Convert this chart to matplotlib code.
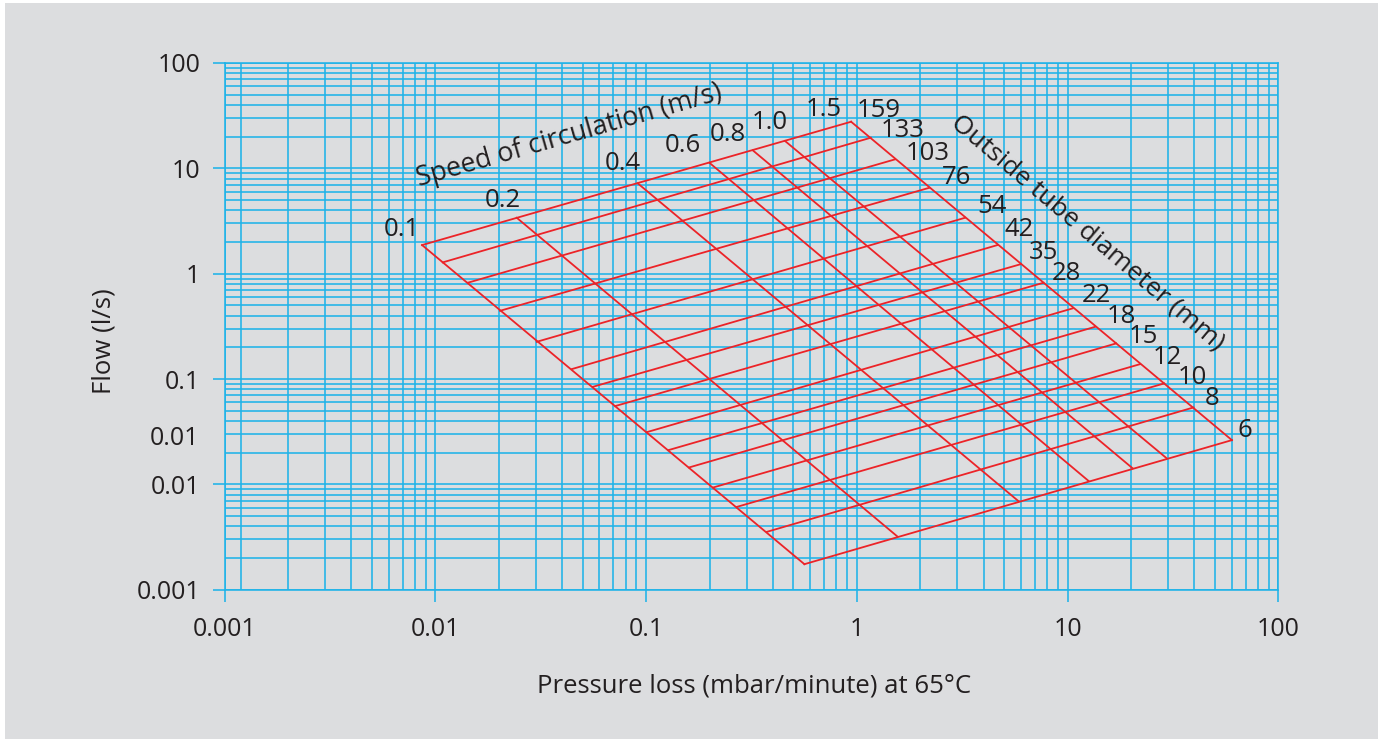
import matplotlib
matplotlib.use("Agg")
import matplotlib.pyplot as plt
from matplotlib.patches import Rectangle
from matplotlib.ticker import LogLocator, NullFormatter
import matplotlib.transforms as mtransforms

plt.rcParams['font.family'] = ['Open Sans', 'DejaVu Sans']

# colours
bg = '#dcdddf'
grid_col = '#1fb3e8'
red = '#ec2328'
txt = '#231f20'

# outside tube diameters (mm), one red line each, from speed 0.1 to 1.5 m/s
diameters = [159, 133, 103, 76, 54, 42, 35, 28, 22, 18, 15, 12, 10, 8, 6]
dp_v01 = [0.00865, 0.01084, 0.01425, 0.02028, 0.03029, 0.0444, 0.05585, 0.07127,
          0.1008, 0.1276, 0.16, 0.2086, 0.2695, 0.374, 0.564]
q_v01 = [1.869, 1.28, 0.82, 0.4443, 0.2256, 0.1242, 0.0843, 0.0553,
         0.0313, 0.02113, 0.01447, 0.00935, 0.00611, 0.00354, 0.001747]
dp_v15 = [0.9395, 1.165, 1.52, 2.211, 3.266, 4.648, 6.023, 7.686,
          10.57, 13.52, 17.01, 22.11, 28.74, 39.58, 60.23]
q_v15 = [27.7, 19.53, 12.18, 6.544, 3.396, 1.869, 1.234, 0.82,
         0.4683, 0.3131, 0.2178, 0.1385, 0.0908, 0.0537, 0.0263]

# speeds of circulation (m/s), one red line each, from 159 mm down to 6 mm
speeds = ['0.1', '0.2', '0.4', '0.6', '0.8', '1.0', '1.5']
dp_d159 = [0.00865, 0.02433, 0.0913, 0.1997, 0.3209, 0.4567, 0.9395]
q_d159 = [1.869, 3.396, 7.203, 11.3, 14.82, 18.16, 27.7]
dp_d6 = [0.564, 1.558, 5.848, 12.57, 20.32, 29.6, 60.23]
q_d6 = [0.001747, 0.0032, 0.00693, 0.01079, 0.01425, 0.01762, 0.0263]

# label spots
speed_lbl_x = [0.00697, 0.0208, 0.07717, 0.1494, 0.245, 0.3878, 0.6972]
speed_lbl_y = [2.652, 4.923, 11.15, 16.39, 21.17, 27.53, 36.33]
diam_lbl_x = [1.272, 1.653, 2.163, 2.97, 4.387, 5.912, 7.686, 9.924,
              13.67, 18.02, 23.02, 29.7, 39.03, 48.41, 69.65]
diam_lbl_y = [35.24, 22.76, 13.88, 8.21, 4.356, 2.612, 1.593, 1.013,
              0.6168, 0.3931, 0.2539, 0.1614, 0.1035, 0.0649, 0.0322]

xticks = [0.001, 0.01, 0.1, 1, 10, 100]
xtick_labels = ['0.001', '0.01', '0.1', '1', '10', '100']
yticks = [0.001, 0.01, 0.1, 1, 10, 100]
ytick_labels = ['0.001', '0.01', '0.1', '1', '10', '100']

fig = plt.figure(figsize=(13.83, 7.42), dpi=100)
fig.patch.set_facecolor('white')
fig.patches.append(Rectangle((5 / 1383, 3 / 742), 1373 / 1383, 736 / 742,
                             transform=fig.transFigure, facecolor=bg,
                             edgecolor='none', zorder=-10))

ax = fig.add_axes([224.6 / 1383, 1 - 589.7 / 742, 1053.7 / 1383, 526.7 / 742])
ax.set_facecolor(bg)
ax.set_xscale('log')
ax.set_yscale('log')
ax.set_xlim(0.001, 100)
ax.set_ylim(0.001, 100)

lw = 1.15
for s in ax.spines.values():
    s.set_color(grid_col)
    s.set_linewidth(lw)

ax.set_xticks(xticks, xtick_labels)
ax.set_yticks(yticks, ytick_labels)
ax.xaxis.set_minor_locator(LogLocator(base=10, subs=range(2, 10)))
ax.yaxis.set_minor_locator(LogLocator(base=10, subs=range(2, 10)))
ax.xaxis.set_minor_formatter(NullFormatter())
ax.yaxis.set_minor_formatter(NullFormatter())
ax.tick_params(which='major', length=8.6, width=lw, color=grid_col,
               labelsize=18, labelcolor=txt)
ax.tick_params(axis='x', which='major', pad=11)
ax.tick_params(axis='y', which='major', pad=9)
ax.tick_params(which='minor', length=0)
ax.grid(which='both', color=grid_col, linewidth=lw)
ax.axvline(0.0012, color=grid_col, linewidth=lw)
ax.set_axisbelow(True)

# stray duplicate label on the flow axis
ax.text(-0.024, 0.0274, '0.01', fontsize=18, color=txt, ha='right', va='center',
        transform=mtransforms.blended_transform_factory(ax.transAxes, ax.transData))

# red nomogram
rlw = 1.3
for i in range(len(diameters)):
    ax.plot([dp_v01[i], dp_v15[i]], [q_v01[i], q_v15[i]], color=red, lw=rlw, zorder=3)
for i in range(len(speeds)):
    ax.plot([dp_d159[i], dp_d6[i]], [q_d159[i], q_d6[i]], color=red, lw=rlw, zorder=3)

for i, s in enumerate(speeds):
    ax.text(speed_lbl_x[i], speed_lbl_y[i], s, fontsize=18.5, color=txt,
            ha='center', va='center', zorder=4)
for i, d in enumerate(diameters):
    ax.text(diam_lbl_x[i], diam_lbl_y[i], str(d), fontsize=18.5, color=txt,
            ha='center', va='center', zorder=4)

ax.text(0.04311, 20.26, 'Speed of circulation (m/s)', fontsize=19.3, color=txt,
        rotation=16, rotation_mode='anchor', ha='center', va='center', zorder=4)
ax.text(12.39, 2.457, 'Outside tube diameter (mm)', fontsize=19, color=txt,
        rotation=-40.3, rotation_mode='anchor', ha='center', va='center', zorder=4)

fig.text(754 / 1383, 1 - 686 / 742, 'Pressure loss (mbar/minute) at 65°C',
         fontsize=18.5, color=txt, ha='center', va='center')
fig.text(104 / 1383, 1 - 341 / 742, 'Flow (l/s)', fontsize=18.5, color=txt,
         rotation=90, ha='center', va='center')

fig.savefig('out.png', dpi=100, facecolor=fig.get_facecolor())
